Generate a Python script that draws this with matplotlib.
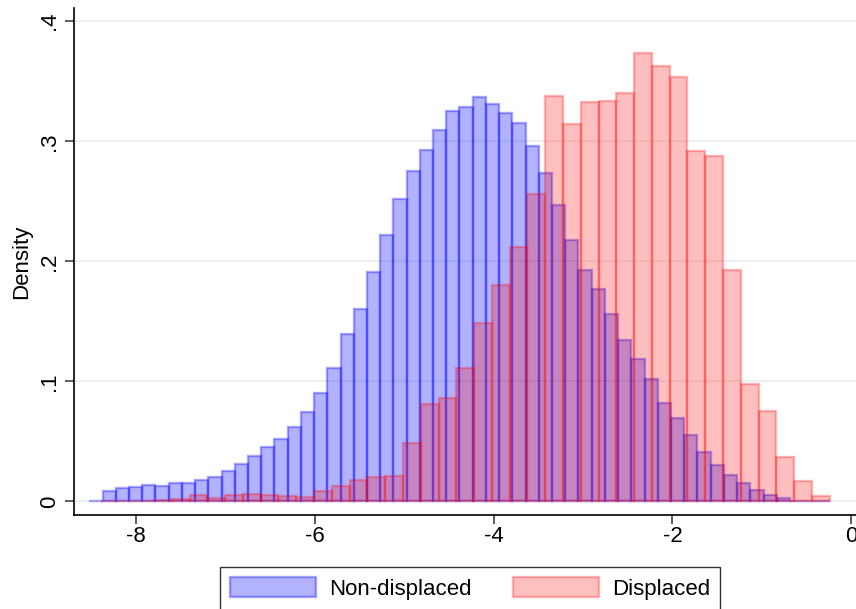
import numpy as np
import matplotlib
matplotlib.use("Agg")
import matplotlib.pyplot as plt
from matplotlib.patches import Patch

plt.rcParams['font.family'] = ['Liberation Sans', 'DejaVu Sans']
plt.rcParams['font.size'] = 16

# histogram densities, one value per bin
nondisp_start = -8.523
nondisp_width = 0.14788
nondisp_density = [
    0.0008, 0.0086, 0.011, 0.012, 0.014, 0.0128, 0.015, 0.015, 0.0178, 0.0203,
    0.0253, 0.031, 0.0378, 0.045, 0.0517, 0.0617, 0.0744, 0.0906, 0.111, 0.1394,
    0.1603, 0.191, 0.222, 0.252, 0.2756, 0.2928, 0.309, 0.325, 0.3286, 0.337,
    0.331, 0.3236, 0.315, 0.296, 0.2736, 0.247, 0.218, 0.193, 0.177, 0.156,
    0.1344, 0.1186, 0.102, 0.082, 0.0694, 0.055, 0.041, 0.0303, 0.022, 0.0153,
    0.0094, 0.0053, 0.0028, 0.0006, 0.0002, 0.0002,
]

disp_start = -8.396
disp_width = 0.19889
disp_density = [
    0.0008, 0.0002, 0.0002, 0.001, 0.002, 0.0056, 0.003, 0.0053, 0.0064, 0.0053,
    0.0042, 0.0036, 0.0086, 0.0125, 0.0178, 0.0203, 0.021, 0.0486, 0.0814, 0.0864,
    0.1114, 0.1486, 0.180, 0.212, 0.256, 0.338, 0.314, 0.3328, 0.3336, 0.340,
    0.3736, 0.3628, 0.3536, 0.292, 0.2875, 0.1928, 0.0978, 0.0753, 0.0369, 0.0169,
    0.0047,
]

xticks = [-8, -6, -4, -2, 0]
xtick_labels = ['-8', '-6', '-4', '-2', '0']
yticks = [0, 0.1, 0.2, 0.3, 0.4]
ytick_labels = ['0', '.1', '.2', '.3', '.4']

blue_fill = (0, 0, 1, 0.3)
blue_edge = (0, 0, 1, 0.34)
red_fill = (1, 0, 0, 0.25)
red_edge = (1, 0, 0, 0.28)

fig = plt.figure(figsize=(8.56, 6.09), dpi=100)
ax = fig.add_axes([0.0868, 0.1544, 0.9132, 0.8325])

left_nd = nondisp_start + nondisp_width * np.arange(len(nondisp_density))
left_d = disp_start + disp_width * np.arange(len(disp_density))

ax.bar(left_nd, nondisp_density, width=nondisp_width, align='edge',
       color=blue_fill, edgecolor=blue_edge, linewidth=1.7)
ax.bar(left_d, disp_density, width=disp_width, align='edge',
       color=red_fill, edgecolor=red_edge, linewidth=1.7)

ax.set_xlim(-8.691, 0.053)
ax.set_ylim(-0.01125, 0.411)

ax.set_xticks(xticks)
ax.set_xticklabels(xtick_labels)
ax.set_yticks(yticks)
ax.set_yticklabels(ytick_labels, rotation=90, va='center')

ax.tick_params(axis='both', direction='out', length=6.3, width=1.1, color='#333333')
ax.tick_params(axis='x', pad=2)
ax.tick_params(axis='y', pad=4)

ax.yaxis.grid(True, color='#e8f0f1', linewidth=1.3)
ax.set_axisbelow(True)

for side in ['top', 'right']:
    ax.spines[side].set_visible(False)
for side in ['left', 'bottom']:
    ax.spines[side].set_linewidth(1.2)
    ax.spines[side].set_color('black')

ax.set_ylabel('Density')
ax.yaxis.set_label_coords(-0.054, 0.5)

handles = [Patch(facecolor=blue_fill, edgecolor=blue_edge, linewidth=1.7),
           Patch(facecolor=red_fill, edgecolor=red_edge, linewidth=1.7)]
leg = fig.legend(handles, ['Non-displaced', 'Displaced'], ncol=2,
                 loc='center', bbox_to_anchor=(470 / 856, 1 - 588.5 / 609),
                 frameon=True, fancybox=False, edgecolor='black',
                 borderpad=0.45, handlelength=3.86, handleheight=0.95,
                 handletextpad=0.6, columnspacing=1.85, borderaxespad=0)
leg.get_frame().set_linewidth(1.0)

fig.savefig('out.png', dpi=100)
